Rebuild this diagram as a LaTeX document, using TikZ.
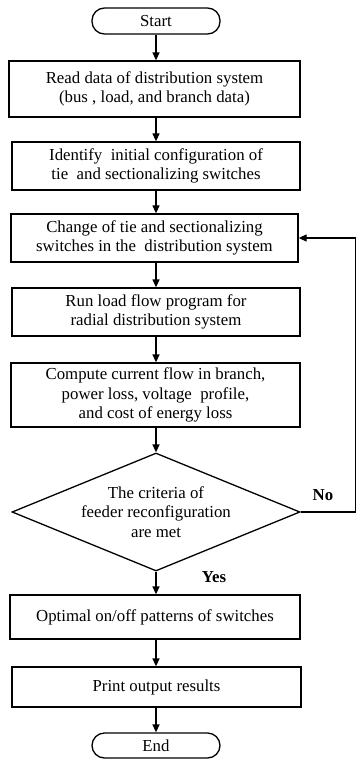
\documentclass[tikz,border=0pt]{standalone}
\usepackage{fontspec}
\setmainfont{Liberation Serif}
\usetikzlibrary{shapes.geometric,arrows.meta}
\begin{document}
\begin{tikzpicture}[x=1pt,y=1pt,
  every node/.style={font=\fontsize{16.8}{19.5}\selectfont},
  procbox/.style={draw,line width=1.3pt,rectangle,align=center,inner sep=2pt},
  termbox/.style={draw,line width=1.3pt,rectangle,rounded corners=12.5pt,minimum width=128pt,minimum height=26pt,inner sep=0pt},
  decbox/.style={draw,line width=1.3pt,diamond,align=center,minimum width=288pt,minimum height=118pt,inner sep=0pt,aspect=2.44},
  flow/.style={line width=1.3pt,-{Triangle[length=8pt,width=7pt]}},
  lbl/.style={font=\fontsize{16.8}{19}\selectfont\bfseries}]
\useasboundingbox (0,0) rectangle (356,-759);
\node[termbox] (start) at (156,-21) {Start};
\node[procbox,minimum width=291pt,minimum height=56pt] (b1) at (154.5,-89) {Read data of distribution system\\ (bus , load, and branch data)};
\node[procbox,minimum width=288pt,minimum height=48pt] (b2) at (156,-166) {Identify\ \ initial configuration of\\tie\ \ and sectionalizing switches};
\node[procbox,minimum width=287pt,minimum height=48pt] (b3) at (154.5,-238) {Change of tie and sectionalizing\\switches in the\ \ distribution system};
\node[procbox,minimum width=288pt,minimum height=48pt] (b4) at (156,-312) {Run load flow program for\\radial distribution system};
\node[procbox,minimum width=289pt,minimum height=64pt] (b5) at (155.5,-395) {Compute current flow in branch,\\power loss, voltage\ \ profile,\\and cost of energy loss};
\node[decbox] (dec) at (156,-512) {The criteria of\\feeder reconfiguration\\are met};
\node[procbox,minimum width=290pt,minimum height=44pt] (b6) at (155,-617) {Optimal on/off patterns of switches};
\node[procbox,minimum width=289pt,minimum height=40pt] (b7) at (156.5,-687) {Print output results};
\node[termbox,minimum height=25pt] (end) at (156,-745.5) {End};
\coordinate (fb) at (355.5,-512);
\draw[flow] (start) -- (start.south |- b1.north);
\draw[flow] (b1.south -| start) -- (start |- b2.north);
\draw[flow] (b2.south -| start) -- (start |- b3.north);
\draw[flow] (b3.south -| start) -- (start |- b4.north);
\draw[flow] (b4.south -| start) -- (start |- b5.north);
\draw[flow] (b5.south -| start) -- (dec.north);
\draw[flow] (dec.south) -- (dec.south |- b6.north);
\draw[flow] (b6.south -| start) -- (start |- b7.north);
\draw[flow] (b7.south -| start) -- (end.north);
\draw[flow] (dec.east) -- (fb) |- (b3.east);
\node[lbl] (no) at (323,-495) {No};
\node[lbl] (yes) at (214,-577) {Yes};
\end{tikzpicture}
\end{document}
